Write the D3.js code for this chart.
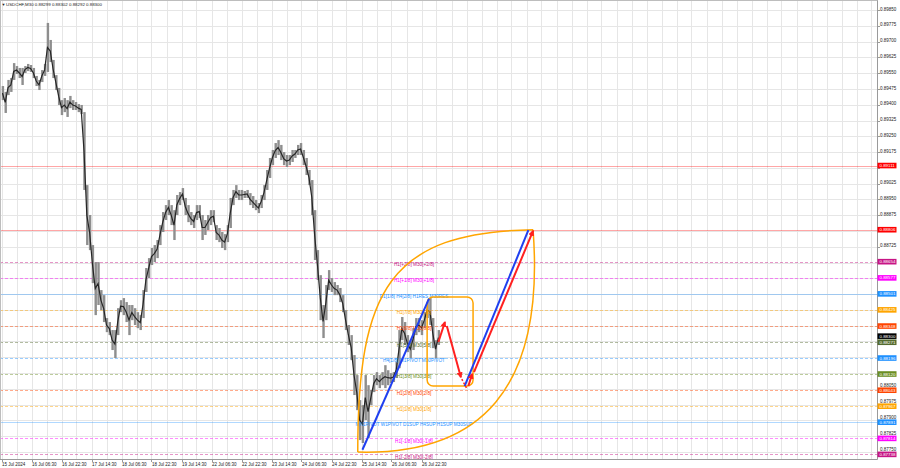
<!DOCTYPE html>
<html><head><meta charset="utf-8">
<script src="https://cdn.jsdelivr.net/npm/d3@7"></script>
<style>
html,body{margin:0;padding:0;background:#fff;}
svg{display:block;font-family:"Liberation Sans",Arial,sans-serif;}
</style></head><body>
<svg id="c" width="900" height="468"></svg>
<script>
// ---------- data ----------
const symbol = "USDCHF,M30";
const titleOHLC = ["0.88299", "0.88302", "0.88292", "0.88300"];
const barsPerGroup = 3;            // each entry below = 3 M30 bars
const highs = [
0.89489,0.89461,0.89518,0.89527,0.89598,0.89584,0.89575,0.89575,0.89584,0.89594,
0.89589,0.89575,0.89537,0.89518,0.89565,0.89594,0.89789,0.89708,0.89613,0.89541,
0.89480,0.89422,0.89432,0.89422,0.89442,0.89422,0.89413,0.89403,0.89399,0.89365,
0.89018,0.88876,0.88733,0.88652,0.88652,0.88519,0.88495,0.88386,0.88367,0.88329,
0.88329,0.88433,0.88471,0.88481,0.88462,0.88448,0.88448,0.88433,0.88414,0.88400,
0.88519,0.88624,0.88671,0.88719,0.88733,0.88757,0.88828,0.88890,0.88923,0.88947,
0.88923,0.88899,0.88971,0.88985,0.89004,0.88957,0.88923,0.88890,0.88876,0.88923,
0.88923,0.88876,0.88852,0.88876,0.88899,0.88899,0.88828,0.88814,0.88795,0.88785,
0.88828,0.88957,0.88995,0.89018,0.88995,0.88995,0.88990,0.88995,0.88980,0.88966,
0.88947,0.88933,0.88971,0.89018,0.89090,0.89147,0.89185,0.89218,0.89232,0.89209,
0.89175,0.89161,0.89161,0.89185,0.89185,0.89209,0.89218,0.89185,0.89147,0.89090,
0.89042,0.88899,0.88709,0.88590,0.88448,0.88543,0.88614,0.88576,0.88557,0.88543,
0.88529,0.88495,0.88424,0.88353,0.88305,0.88210,0.88115,0.87996,0.87972,0.88115,
0.88067,0.88044,0.88115,0.88129,0.88115,0.88129,0.88162,0.88138,0.88124,0.88129,
0.88177,0.88329,0.88391,0.88367,0.88305,0.88281,0.88338,0.88386,0.88386,0.88376,
0.88414,0.88462,0.88481,0.88386,0.88281,0.88329];
const lows = [
0.89422,0.89361,0.89446,0.89461,0.89518,0.89546,0.89527,0.89494,0.89551,0.89560,
0.89556,0.89527,0.89489,0.89470,0.89508,0.89537,0.89556,0.89603,0.89527,0.89470,
0.89399,0.89351,0.89365,0.89342,0.89384,0.89375,0.89375,0.89365,0.89356,0.88995,
0.88733,0.88709,0.88552,0.88400,0.88448,0.88424,0.88367,0.88319,0.88305,0.88234,
0.88196,0.88305,0.88414,0.88400,0.88367,0.88305,0.88376,0.88353,0.88338,0.88329,
0.88386,0.88510,0.88576,0.88638,0.88652,0.88671,0.88733,0.88795,0.88852,0.88876,
0.88828,0.88757,0.88876,0.88923,0.88947,0.88876,0.88842,0.88828,0.88814,0.88852,
0.88861,0.88757,0.88781,0.88804,0.88828,0.88842,0.88757,0.88747,0.88719,0.88709,
0.88747,0.88814,0.88923,0.88957,0.88947,0.88947,0.88957,0.88957,0.88923,0.88909,
0.88899,0.88885,0.88909,0.88947,0.88995,0.89052,0.89113,0.89147,0.89161,0.89137,
0.89113,0.89104,0.89113,0.89128,0.89147,0.89161,0.89161,0.89113,0.89066,0.89018,
0.88876,0.88662,0.88567,0.88376,0.88291,0.88376,0.88519,0.88510,0.88495,0.88495,
0.88462,0.88414,0.88329,0.88258,0.88186,0.88020,0.87948,0.87806,0.87792,0.87901,
0.87815,0.87972,0.88034,0.88067,0.88053,0.88067,0.88053,0.88067,0.88077,0.88082,
0.88101,0.88148,0.88281,0.88258,0.88224,0.88196,0.88234,0.88305,0.88319,0.88305,
0.88338,0.88386,0.88353,0.88243,0.88196,0.88258];
const lastPrice = 0.88300;

const priceTicks = [0.89850,0.89775,0.89700,0.89625,0.89550,0.89475,0.89400,0.89325,0.89250,0.89175,
  0.89100,0.89025,0.88950,0.88875,0.88800,0.88725,0.88650,0.88575,0.88500,0.88425,0.88350,0.88275,
  0.88200,0.88125,0.88050,0.87975,0.87900,0.87825,0.87750];
const timeLabels = ["15 Jul 2024","16 Jul 06:30","16 Jul 22:30","17 Jul 14:30","18 Jul 06:30","18 Jul 22:30",
  "19 Jul 14:30","22 Jul 06:30","22 Jul 22:30","23 Jul 14:30","24 Jul 06:30","24 Jul 22:30",
  "25 Jul 14:30","26 Jul 06:30","26 Jul 22:30"];
const timeLabelBars = [0,32,64,96,128,160,192,224,256,288,320,352,384,416,448];

const levelPrices = [0.89111,0.88806,0.88654,0.88577,0.88501,0.88425,0.88348,0.88271,0.88196,0.88120,0.88043,0.87967,0.87891,0.87814,0.87738];
const levelTexts = ["","","H1[+2/8] M30[+2/8]","H1[+1/8] M30[+1/8]","D1[1/8] H4[2/8] H1RES M30RES",
  "H1[7/8] M30[7/8]","H1[6/8] M30[6/8]","H1[5/8] M30[5/8]","H4[1/8] W1PIVOT M30PIVOT","H1[3/8] M30[3/8]",
  "H1[2/8] M30[2/8]","H1[1/8] M30[1/8]","MN1PIVOT W1PIVOT D1SUP H4SUP H1SUP M30SUP","H1[-1/8] M30[-1/8]","H1[-2/8] M30[-2/8]"];

// drawn objects, in (bar index, price)
const boxCorners = [[454,0.88486],[503,0.88063]];
const lensLeft  = [[380,0.87749],[380,0.88519],[414,0.88795],[567,0.88806]];
const lensRight = [[567,0.88806],[580,0.88044],[510,0.87734],[380,0.87749]];
const blueLines = [[[385,0.87760],[456,0.88478]], [[494,0.88063],[562,0.88804]]];
const redArrows = [[[466,0.88272],[473,0.88367]], [[475,0.88348],[490,0.88105]],
                   [[498,0.88063],[502,0.88120]], [[504,0.88129],[567,0.88800]]];
const redDash = [[491,0.88096],[496,0.88053]];

// ---------- styles ----------
const levelColors = ["#ff0000","#ff0000","#c71585","#ff00ff","#1e90ff","#ffa500","#ff4500","#556b2f",
  "#1e90ff","#6b8e23","#ff4500","#ffa500","#1e90ff","#ff00ff","#c71585"];
const levelSolid = [true,true,false,false,true,false,false,false,false,false,false,false,true,false,false];

// ---------- drawing ----------
const svg = d3.select("#c");
const plotR = 877, plotB = 459;
const x = d3.scaleLinear().domain([0, 934]).range([1.5, 1.5 + 934 * 0.9375]);
const y = d3.scaleLinear().domain([0.87716, 0.89898]).range([459, 0]);
const crisp = v => Math.round(v) + 0.5;

svg.append("rect").attr("width",900).attr("height",468).attr("fill","#fff");

const plot = svg.append("g");
plot.append("clipPath").attr("id","clip").append("rect").attr("x",0).attr("y",0).attr("width",plotR).attr("height",plotB);
const g = plot.append("g").attr("clip-path","url(#clip)");

// grid
g.selectAll(".hg").data(priceTicks).enter().append("line")
  .attr("x1",0).attr("x2",plotR).attr("y1",d=>crisp(y(d))).attr("y2",d=>crisp(y(d)))
  .attr("stroke","#e6e6e6").attr("stroke-width",1);
g.selectAll(".vg").data(d3.range(0, 934, 16)).enter().append("line")
  .attr("y1",0).attr("y2",plotB).attr("x1",d=>crisp(x(d))).attr("x2",d=>crisp(x(d)))
  .attr("stroke","#e6e6e6").attr("stroke-width",1);

// level lines
g.selectAll(".lvl").data(levelPrices).enter().append("line")
  .attr("x1",0).attr("x2",plotR).attr("y1",d=>crisp(y(d))).attr("y2",d=>crisp(y(d)))
  .attr("stroke",(d,i)=>levelColors[i]).attr("stroke-opacity",(d,i)=>levelSolid[i]?0.35:0.45)
  .attr("stroke-width",1)
  .attr("stroke-dasharray",(d,i)=>levelSolid[i]?null:"3,2");

// price bars
const gw = x(barsPerGroup) - x(0);
g.selectAll(".bar").data(highs).enter().append("rect")
  .attr("x",(d,i)=>x(i*barsPerGroup) + 0.2)
  .attr("width",gw - 0.4)
  .attr("y",d=>y(d))
  .attr("height",(d,i)=>Math.max(1, y(lows[i]) - y(d)))
  .attr("fill","#8e8e8e");
const mid = highs.map((h,i)=>[x(i*barsPerGroup+1), y((h+lows[i])/2)]);
g.append("path").attr("d", d3.line()(mid)).attr("fill","none").attr("stroke","#262626").attr("stroke-width",1.2);

// level texts
g.selectAll(".lt").data(levelPrices).enter().append("text")
  .attr("x", x(440)).attr("y", d=>y(d)+4.3)
  .attr("text-anchor","middle").attr("font-size",4.7)
  .attr("fill",(d,i)=>levelColors[i]).text((d,i)=>levelTexts[i]);

// orange rounded rectangle
g.append("rect")
  .attr("x", x(boxCorners[0][0])).attr("y", y(boxCorners[0][1]))
  .attr("width", x(boxCorners[1][0]) - x(boxCorners[0][0]))
  .attr("height", y(boxCorners[1][1]) - y(boxCorners[0][1]))
  .attr("rx",6).attr("ry",6).attr("fill","none").attr("stroke","#ffa500").attr("stroke-width",1.5);

// lens shape
function cubic(pts){
  const p = pts.map(d=>[x(d[0]), y(d[1])]);
  return `M${p[0]}C${p[1]} ${p[2]} ${p[3]}`;
}
g.append("path").attr("d", cubic(lensLeft)).attr("fill","none").attr("stroke","#ffa500").attr("stroke-width",1.5);
g.append("path").attr("d", cubic(lensRight)).attr("fill","none").attr("stroke","#ffa500").attr("stroke-width",1.5);

// blue lines
g.selectAll(".bl").data(blueLines).enter().append("line")
  .attr("x1",d=>x(d[0][0])).attr("y1",d=>y(d[0][1])).attr("x2",d=>x(d[1][0])).attr("y2",d=>y(d[1][1]))
  .attr("stroke","#1f3ff0").attr("stroke-width",2);

// red arrows
const defs = svg.append("defs");
defs.append("marker").attr("id","ah").attr("viewBox","0 0 10 10").attr("refX",8).attr("refY",5)
  .attr("markerWidth",6).attr("markerHeight",6).attr("markerUnits","userSpaceOnUse").attr("orient","auto")
  .append("path").attr("d","M0,0L10,5L0,10Z").attr("fill","#ff2020");
g.selectAll(".ra").data(redArrows).enter().append("line")
  .attr("x1",d=>x(d[0][0])).attr("y1",d=>y(d[0][1])).attr("x2",d=>x(d[1][0])).attr("y2",d=>y(d[1][1]))
  .attr("stroke","#ff2020").attr("stroke-width",2).attr("marker-end","url(#ah)");
g.append("line")
  .attr("x1",x(redDash[0][0])).attr("y1",y(redDash[0][1])).attr("x2",x(redDash[1][0])).attr("y2",y(redDash[1][1]))
  .attr("stroke","#ff2020").attr("stroke-width",1.5).attr("stroke-dasharray","2,2");

// frame
svg.append("line").attr("x1",plotR+0.5).attr("x2",plotR+0.5).attr("y1",0).attr("y2",plotB+0.5).attr("stroke","#9a9a9a");
svg.append("line").attr("x1",0).attr("x2",plotR+0.5).attr("y1",plotB+0.5).attr("y2",plotB+0.5).attr("stroke","#9a9a9a");
svg.append("line").attr("x1",0).attr("x2",plotR+0.5).attr("y1",0.5).attr("y2",0.5).attr("stroke","#bdbdbd");
svg.append("line").attr("x1",0.5).attr("x2",0.5).attr("y1",0).attr("y2",plotB).attr("stroke","#bdbdbd");

// right axis
const boxPrices = levelPrices.concat([lastPrice]);
const boxColors = levelColors.concat(["#000000"]);
const boxH = 5.6;
const ax = svg.append("g");
ax.selectAll(".tk").data(priceTicks).enter().append("line")
  .attr("x1",plotR).attr("x2",plotR+3).attr("y1",d=>crisp(y(d))).attr("y2",d=>crisp(y(d)))
  .attr("stroke","#9a9a9a");
// plain tick labels: hidden when a level box sits on them, lifted when a box is just below
const plain = priceTicks.map(t => {
  const hit = boxPrices.filter(b => b - t > -0.000065 && b - t < 0.00015);
  if (hit.length) return null;
  const below = boxPrices.filter(b => t - b >= 0.000065 && t - b < 0.00015);
  let baseY = y(t) + 0.6;
  if (below.length) baseY = Math.min(baseY, y(d3.max(below)) - boxH / 2 - 0.3);
  return {t, baseY};
}).filter(d => d);
ax.selectAll(".tl").data(plain).enter().append("text")
  .attr("x",plotR+3).attr("y",d=>d.baseY).attr("font-size",4.5).attr("fill","#222").text(d=>d.t.toFixed(5));

// level boxes on axis
const bx = ax.selectAll(".bx").data(boxPrices).enter().append("g");
bx.append("rect").attr("x",plotR+0.5).attr("y",d=>y(d)-boxH/2).attr("width",19).attr("height",boxH)
  .attr("fill",(d,i)=>boxColors[i]);
bx.append("text").attr("x",plotR+2.5).attr("y",d=>y(d)+1.6).attr("font-size",4.4).attr("fill","#fff")
  .text(d=>d.toFixed(5));

// bottom axis
ax.selectAll(".btk").data(timeLabelBars).enter().append("line")
  .attr("x1",d=>crisp(x(d))).attr("x2",d=>crisp(x(d))).attr("y1",plotB).attr("y2",plotB+3)
  .attr("stroke","#9a9a9a");
ax.selectAll(".btl").data(timeLabels).enter().append("text")
  .attr("x",(d,i)=>x(timeLabelBars[i])+0.5).attr("y",466).attr("font-size",4.5).attr("fill","#222").text(d=>d);

// title
svg.append("text").attr("x",1.5).attr("y",6).attr("font-size",4).attr("fill","#222").text("\u25BC");
svg.append("text").attr("x",6).attr("y",6).attr("font-size",4.4).attr("fill","#222")
  .text(symbol + "  " + titleOHLC.join(" "));
</script>
</body></html>
